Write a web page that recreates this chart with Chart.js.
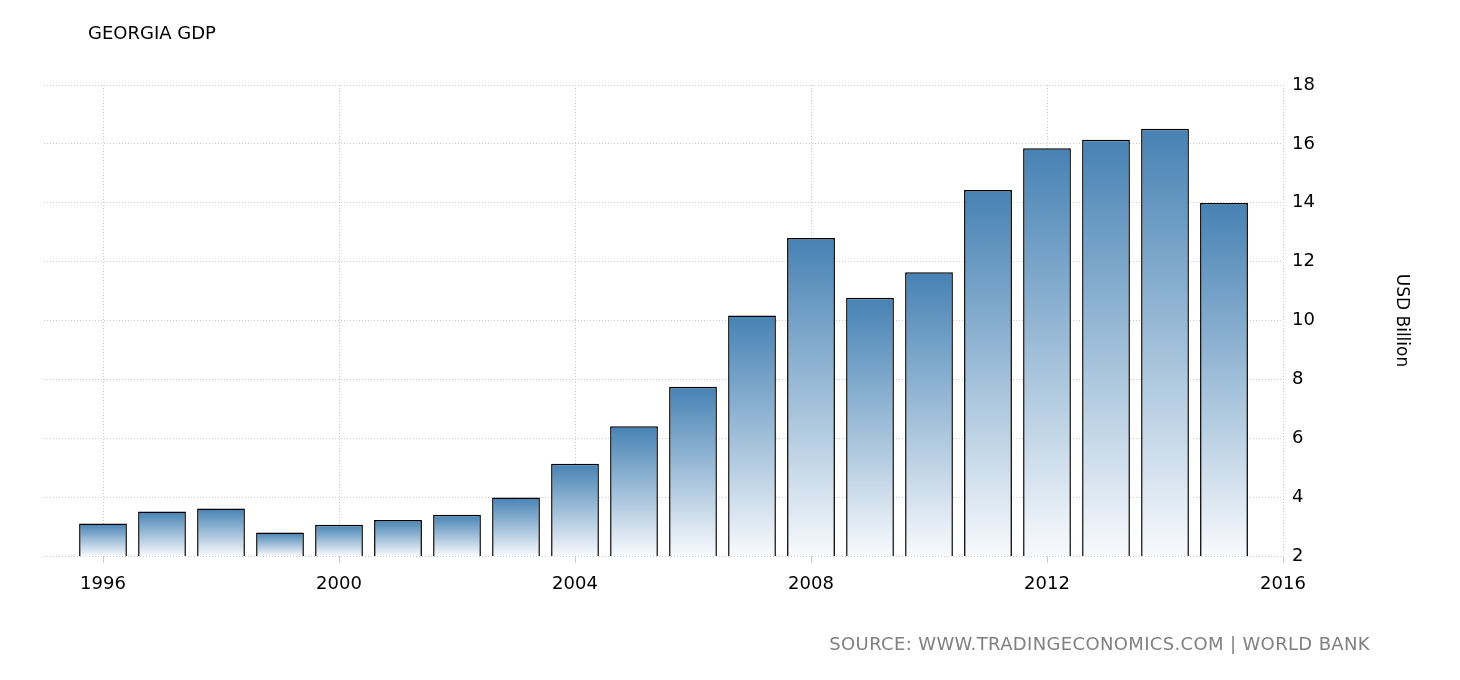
<!DOCTYPE html>
<html>
<head>
<meta charset="utf-8">
<script src="https://cdn.jsdelivr.net/npm/chart.js@4"></script>
<style>
body { margin: 0; background: #fff; }
#wrap { position: relative; width: 1460px; height: 680px; }
#title { position: absolute; left: 88px; top: 22px; font: 18px "DejaVu Sans", sans-serif; color: #000; }
#source { position: absolute; right: 90px; top: 633px; font: 18px "DejaVu Sans", sans-serif; color: #808080; letter-spacing: 0.35px; }
</style>
</head>
<body>
<div id="wrap">
<canvas id="canvas" width="1460" height="680"></canvas>
<div id="title">GEORGIA GDP</div>
<div id="source">SOURCE: WWW.TRADINGECONOMICS.COM | WORLD BANK</div>
</div>
<script>
const years = [1996, 1997, 1998, 1999, 2000, 2001, 2002, 2003, 2004, 2005,
  2006, 2007, 2008, 2009, 2010, 2011, 2012, 2013, 2014, 2015];
const gdp = [3.10, 3.51, 3.61, 2.80, 3.06, 3.22, 3.40, 3.99, 5.13, 6.41,
  7.75, 10.17, 12.80, 10.77, 11.64, 14.43, 15.85, 16.14, 16.51, 13.99];
const xTicks = [1996, 2000, 2004, 2008, 2012, 2016];
const yTicks = [2, 4, 6, 8, 10, 12, 14, 16, 18];

const points = years.map((y, i) => ({ x: y, y: gdp[i] }));

function barGradient(context) {
  const chart = context.chart;
  if (!chart.chartArea || context.raw == null) return '#4682b4';
  const yScale = chart.scales.y;
  const top = yScale.getPixelForValue(context.raw.y);
  const bottom = yScale.getPixelForValue(yScale.min);
  if (!isFinite(top) || !isFinite(bottom)) return '#4682b4';
  const g = chart.ctx.createLinearGradient(0, top, 0, bottom);
  g.addColorStop(0, '#4682b4');
  g.addColorStop(1, '#f8fafd');
  return g;
}

const ctx = document.getElementById('canvas').getContext('2d');

new Chart(ctx, {
  type: 'bar',
  data: {
    datasets: [{
      data: points,
      backgroundColor: barGradient,
      borderColor: '#000',
      borderWidth: 1.5,
      borderSkipped: false,
      barPercentage: 0.9,
      categoryPercentage: 0.9,
    }],
  },
  options: {
    responsive: false,
    animation: false,
    layout: { padding: { left: 44, right: 40, top: 85, bottom: 80 } },
    plugins: { legend: { display: false }, tooltip: { enabled: false } },
    scales: {
      x: {
        type: 'linear',
        min: 1995,
        max: 2016,
        offset: false,
        afterBuildTicks: (scale) => { scale.ticks = xTicks.map(v => ({ value: v })); },
        afterFit: (scale) => { scale.height = 44; },
        border: { display: false, dash: [1, 2] },
        grid: {
          offset: false,
          color: '#cccccc',
          tickColor: '#cccccc',
          tickBorderDash: [],
          tickLength: 7,
          lineWidth: 1,
        },
        ticks: {
          color: '#000',
          font: { family: 'DejaVu Sans', size: 18 },
          padding: 11,
          maxRotation: 0,
          callback: (v) => String(v),
        },
      },
      y: {
        position: 'right',
        min: 2,
        max: 18,
        afterBuildTicks: (scale) => { scale.ticks = yTicks.map(v => ({ value: v })); },
        afterFit: (scale) => { scale.width = 137; },
        border: { display: false, dash: [1, 2] },
        grid: {
          color: '#cccccc',
          drawTicks: false,
        },
        ticks: {
          color: '#000',
          font: { family: 'DejaVu Sans', size: 18 },
          padding: 9,
        },
        title: {
          display: true,
          text: 'USD Billion',
          color: '#000',
          font: { family: 'DejaVu Sans', size: 17 },
          padding: { top: 8, bottom: 8 },
        },
      },
    },
  },
});
</script>
</body>
</html>
